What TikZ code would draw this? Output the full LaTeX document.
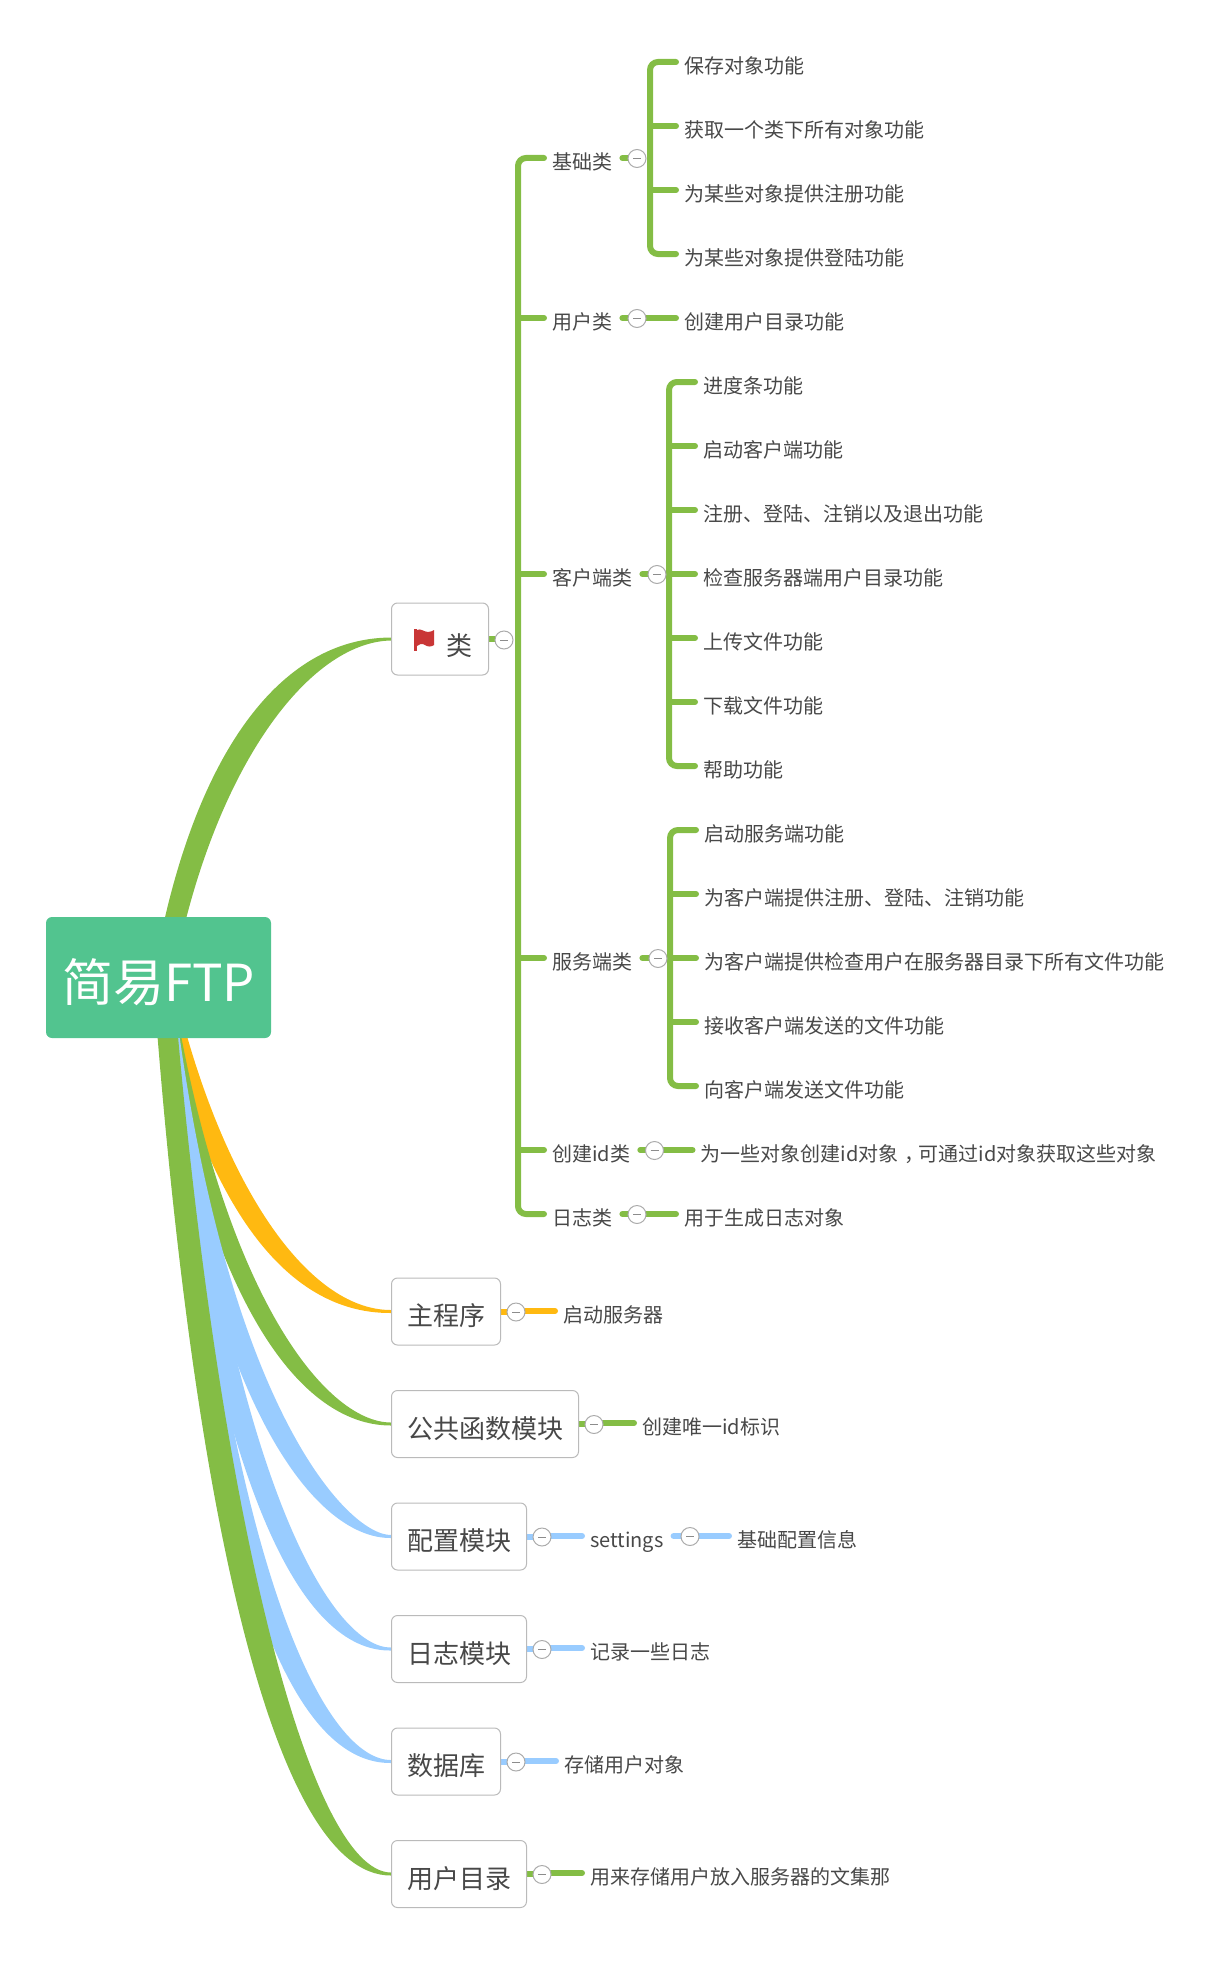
\documentclass[tikz,border=0pt]{standalone}
\usepackage{fontspec}
\setmainfont{Noto Sans CJK SC}
\usetikzlibrary{backgrounds}
\definecolor{leafgreen}{HTML}{84BD45}
\definecolor{skyblue}{HTML}{99CCFF}
\definecolor{amber}{HTML}{FFB911}
\definecolor{rootgreen}{HTML}{52C48F}
\definecolor{inkgrey}{HTML}{484848}
\definecolor{flagred}{HTML}{C93636}
\tikzset{
	rootbox/.style={rectangle, rounded corners=6, fill=rootgreen, text=white, font=\fontsize{51}{60}\selectfont, minimum width=225, minimum height=121, inner sep=0, text height=47pt, text depth=0pt},
	topicbox/.style={rectangle, rounded corners=6, draw=black!27, fill=white, line width=1pt, text=inkgrey, font=\fontsize{26}{30}\selectfont, anchor=west, minimum height=67, inner xsep=15.5, inner ysep=0, text height=28.8pt, text depth=0pt},
	leaf/.style={anchor=west, text=inkgrey, font=\fontsize{20}{24}\selectfont, inner xsep=8, inner ysep=0, text height=23.2pt, text depth=0pt},
	fold/.style={circle, draw=black!33, fill=white, line width=1pt, minimum size=18, inner sep=0, path picture={\draw[black!45, line width=0.7pt] ([xshift=-4pt]path picture bounding box.center) -- ([xshift=4pt]path picture bounding box.center);}},
	limb/.style={line width=6pt, line cap=round},
	stub/.style={limb, shorten <=2pt}
}
\def\taper[#1](#2,#3)(#4,#5)(#6)(#7,#8){\fill[#1] ([xshift=-#7*10pt]hub) .. controls ({#2-#7*12},#3) and ({#4-#7*18},{#5+(#8)*#7*2}) .. ([yshift=-(#8)*1.5pt]#6.west) -- ([yshift=(#8)*1.5pt]#6.west) .. controls ({#4+#7*18},{#5-(#8)*#7*2}) and ({#2+#7*12},#3) .. ([xshift=#7*10pt]hub) -- cycle;}

\begin{document}
\begin{tikzpicture}[x=1pt, y=-1pt]
	%%%%% START %%%%%
	\useasboundingbox (0, 0) rectangle (1224, 1964);
	
	\node[rootbox] (root) at (158.5, 977.5) {简易FTP};
	\coordinate (hub) at ([xshift=4.5pt]root.center);
	
	\node[topicbox, minimum width=97, minimum height=72, text height=32pt] (classes) at (391, 639) {\hspace{39pt}类};
	\node[topicbox] (mainprog) at (391, 1311.5) {主程序};
	\node[topicbox] (common) at (391, 1424) {公共函数模块};
	\node[topicbox] (config) at (391, 1536.5) {配置模块};
	\node[topicbox] (logmod) at (391, 1649) {日志模块};
	\node[topicbox] (database) at (391, 1761.5) {数据库};
	\node[topicbox] (userdir) at (391, 1874) {用户目录};
	
	\fill[flagred] (414, 629) rectangle (417, 651);
	\fill[flagred] (417, 630) .. controls (421, 628) and (424, 632) .. (428, 632) .. controls (431, 632) and (432, 631) .. (434, 630) -- (434, 645) .. controls (431, 647) and (428, 647) .. (425, 645) .. controls (422, 643) and (419, 644) .. (417, 646) -- cycle;
	
	\node[fold] (foldclasses) at (504, 640) {};
	\coordinate (trunk) at (518, 639);
	
	\node[leaf] (basic) at (544, 158) {基础类};
	\node[leaf] (usercls) at (544, 318) {用户类};
	\node[leaf] (client) at (544, 574) {客户端类};
	\node[leaf] (server) at (544, 958) {服务端类};
	\node[leaf] (idcls) at (544, 1150) {创建id类};
	\node[leaf] (logcls) at (544, 1214) {日志类};
	
	\node[fold] (foldbasic) at (637, 158.5) {};
	\node[fold] (folduser) at (637, 318.5) {};
	\node[fold] (foldclient) at (657, 574.5) {};
	\node[fold] (foldserver) at (658, 958.5) {};
	\node[fold] (foldid) at (654.5, 1150.5) {};
	\node[fold] (foldlog) at (637, 1214.5) {};
	
	\coordinate (busbasic) at (650, 158);
	\node[leaf] (b1) at (676, 62) {保存对象功能};
	\node[leaf] (b2) at (676, 126) {获取一个类下所有对象功能};
	\node[leaf] (b3) at (676, 190) {为某些对象提供注册功能};
	\node[leaf] (b4) at (676, 254) {为某些对象提供登陆功能};
	\node[leaf] (u1) at (676, 318) {创建用户目录功能};
	
	\coordinate (busclient) at (669, 574);
	\node[leaf] (c1) at (695, 382) {进度条功能};
	\node[leaf] (c2) at (695, 446) {启动客户端功能};
	\node[leaf] (c3) at (695, 510) {注册、登陆、注销以及退出功能};
	\node[leaf] (c4) at (695, 574) {检查服务器端用户目录功能};
	\node[leaf] (c5) at (695, 638) {上传文件功能};
	\node[leaf] (c6) at (695, 702) {下载文件功能};
	\node[leaf] (c7) at (695, 766) {帮助功能};
	
	\coordinate (busserver) at (670, 958);
	\node[leaf] (s1) at (696, 830) {启动服务端功能};
	\node[leaf] (s2) at (696, 894) {为客户端提供注册、登陆、注销功能};
	\node[leaf] (s3) at (696, 958) {为客户端提供检查用户在服务器目录下所有文件功能};
	\node[leaf] (s4) at (696, 1022) {接收客户端发送的文件功能};
	\node[leaf] (s5) at (696, 1086) {向客户端发送文件功能};
	
	\node[leaf] (i1) at (692.5, 1150) {为一些对象创建id对象\hspace{6pt}，\hspace{-6pt}可通过id对象获取这些对象};
	\node[leaf] (l1) at (676, 1214) {用于生成日志对象};
	
	\node[fold] (foldmain) at (516, 1312) {};
	\node[leaf] (m1) at (555, 1311) {启动服务器};
	\node[fold] (foldcommon) at (594, 1424.5) {};
	\node[leaf] (k1) at (634, 1423) {创建唯一id标识};
	\node[fold] (foldconfig) at (542, 1537) {};
	\node[leaf] (settings) at (582, 1536) {settings};
	\node[fold] (foldsettings) at (690, 1536.5) {};
	\node[leaf] (g1) at (729, 1536) {基础配置信息};
	\node[fold] (foldlogmod) at (542, 1649.5) {};
	\node[leaf] (r1) at (582, 1648) {记录一些日志};
	\node[fold] (folddata) at (516, 1762) {};
	\node[leaf] (d1) at (556, 1761) {存储用户对象};
	\node[fold] (folddir) at (542, 1874.5) {};
	\node[leaf] (t1) at (582, 1873) {用来存储用户放入服务器的文集那};
	
	\begin{scope}[on background layer]
		\taper[leafgreen](200, 770)(290, 640)(classes)(1, -1)
		\taper[amber](207, 1180)(290, 1312)(mainprog)(0.9, 1)
		\taper[leafgreen](210, 1290)(310, 1424)(common)(0.8, 1)
		\taper[skyblue](210, 1400)(330, 1537)(config)(0.9, 1)
		\taper[skyblue](220, 1500)(320, 1650)(logmod)(0.9, 1)
		\taper[skyblue](215, 1600)(315, 1762)(database)(0.9, 1)
		\taper[leafgreen](203, 1500)(290, 1874)(userdir)(1, 1)
		
		\draw[limb, leafgreen] (classes.east) -- (foldclasses.center |- classes.east);
		\draw[limb, leafgreen, rounded corners=8] (basic.west) -| (trunk) |- (logcls.west);
		\draw[limb, leafgreen] (trunk |- usercls.west) -- (usercls.west);
		\draw[limb, leafgreen] (trunk |- client.west) -- (client.west);
		\draw[limb, leafgreen] (trunk |- server.west) -- (server.west);
		\draw[limb, leafgreen] (trunk |- idcls.west) -- (idcls.west);
		
		\draw[stub, leafgreen] (basic.east) -- (foldbasic.center |- basic.east);
		\draw[limb, leafgreen, rounded corners=8] (b1.west) -| (busbasic) |- (b4.west);
		\draw[limb, leafgreen] (busbasic |- b2.west) -- (b2.west);
		\draw[limb, leafgreen] (busbasic |- b3.west) -- (b3.west);
		
		\draw[stub, leafgreen] (usercls.east) -- (folduser.center |- usercls.east);
		\draw[limb, leafgreen] (folduser.center |- u1.west) -- (u1.west);
		
		\draw[stub, leafgreen] (client.east) -- (foldclient.center |- client.east);
		\draw[limb, leafgreen, rounded corners=8] (c1.west) -| (busclient) |- (c7.west);
		\draw[limb, leafgreen] (busclient |- c2.west) -- (c2.west);
		\draw[limb, leafgreen] (busclient |- c3.west) -- (c3.west);
		\draw[limb, leafgreen] (busclient |- c4.west) -- (c4.west);
		\draw[limb, leafgreen] (busclient |- c5.west) -- (c5.west);
		\draw[limb, leafgreen] (busclient |- c6.west) -- (c6.west);
		
		\draw[stub, leafgreen] (server.east) -- (foldserver.center |- server.east);
		\draw[limb, leafgreen, rounded corners=8] (s1.west) -| (busserver) |- (s5.west);
		\draw[limb, leafgreen] (busserver |- s2.west) -- (s2.west);
		\draw[limb, leafgreen] (busserver |- s3.west) -- (s3.west);
		\draw[limb, leafgreen] (busserver |- s4.west) -- (s4.west);
		
		\draw[stub, leafgreen] (idcls.east) -- (foldid.center |- idcls.east);
		\draw[limb, leafgreen] (foldid.center |- i1.west) -- (i1.west);
		\draw[stub, leafgreen] (logcls.east) -- (foldlog.center |- logcls.east);
		\draw[limb, leafgreen] (foldlog.center |- l1.west) -- (l1.west);
		
		\draw[limb, amber] (mainprog.east) -- (foldmain.center |- mainprog.east);
		\draw[limb, amber] (foldmain.center |- m1.west) -- (m1.west);
		\draw[limb, leafgreen] (common.east) -- (foldcommon.center |- common.east);
		\draw[limb, leafgreen] (foldcommon.center |- k1.west) -- (k1.west);
		\draw[limb, skyblue] (config.east) -- (foldconfig.center |- config.east);
		\draw[limb, skyblue] (foldconfig.center |- settings.west) -- (settings.west);
		\draw[stub, skyblue] (settings.east) -- (foldsettings.center |- settings.east);
		\draw[limb, skyblue] (foldsettings.center |- g1.west) -- (g1.west);
		\draw[limb, skyblue] (logmod.east) -- (foldlogmod.center |- logmod.east);
		\draw[limb, skyblue] (foldlogmod.center |- r1.west) -- (r1.west);
		\draw[limb, skyblue] (database.east) -- (folddata.center |- database.east);
		\draw[limb, skyblue] (folddata.center |- d1.west) -- (d1.west);
		\draw[limb, leafgreen] (userdir.east) -- (folddir.center |- userdir.east);
		\draw[limb, leafgreen] (folddir.center |- t1.west) -- (t1.west);
	\end{scope}
	%%%%% END %%%%%
\end{tikzpicture}
\end{document}
